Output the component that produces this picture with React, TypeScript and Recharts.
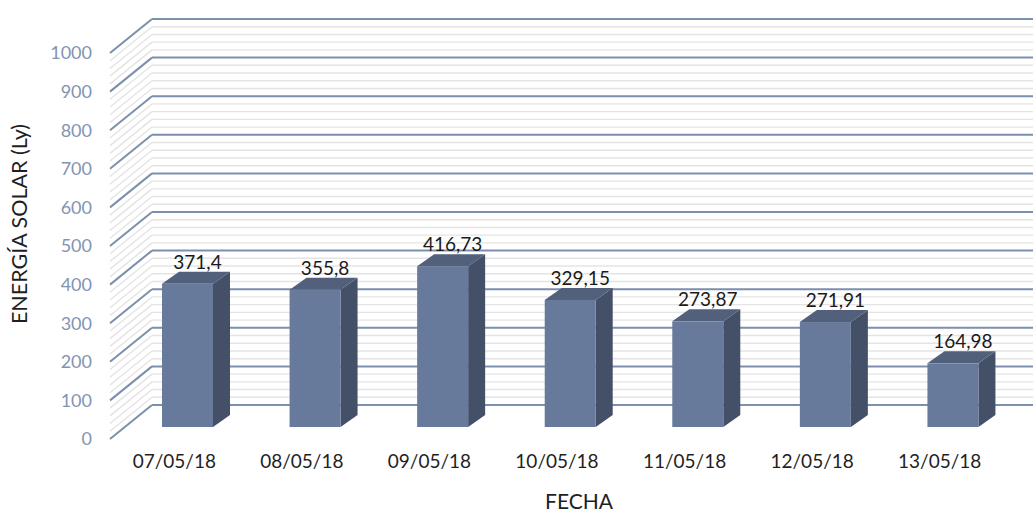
import React from 'react';
import { BarChart, Bar, XAxis, YAxis, CartesianGrid, LabelList } from 'recharts';

// ---- data ----
const DATES = ['07/05/18', '08/05/18', '09/05/18', '10/05/18', '11/05/18', '12/05/18', '13/05/18'];
const ENERGY = [371.4, 355.8, 416.73, 329.15, 273.87, 271.91, 164.98];
const MAJOR_TICKS = [0, 100, 200, 300, 400, 500, 600, 700, 800, 900, 1000];
const MINOR_STEP = 20;
const Y_MAX = 1000;
const X_TITLE = 'FECHA';
const Y_TITLE = 'ENERGÍA SOLAR (Ly)';

const data = DATES.map((d, i) => ({ date: d, value: ENERGY[i] }));
const gridTicks = Array.from({ length: Y_MAX / MINOR_STEP + 1 }, (_, i) => i * MINOR_STEP);

// ---- layout / 3D geometry ----
const W = 1033;
const H = 513;
const PLOT_LEFT = 124;
const PLOT_TOP = 41;
const PLOT_BOTTOM = 427;
const BAR_DX = 17;
const BAR_DY = 12;
const WALL_DX = 28;
const WALL_DY = 22;
const FRONT_DX = -14;
const FRONT_DY = 12;
const FONT = 'Lato, "Open Sans", sans-serif';

const MAJOR_COLOR = '#7d8fae';
const MINOR_COLOR = '#e4e4e4';

const renderGridLine = (p: any) => {
  const { x1, y1, x2, index, key } = p;
  let v: number;
  if (typeof p.y === 'number' && typeof p.height === 'number' && p.height > 0) {
    v = Math.round(((p.y + p.height - y1) / p.height) * Y_MAX);
  } else {
    v = index * MINOR_STEP;
  }
  const major = MAJOR_TICKS.some((t) => Math.abs(t - v) < 2);
  const stroke = major ? MAJOR_COLOR : MINOR_COLOR;
  const sw = major ? 2 : 1.4;
  return (
    <g key={key}>
      <line x1={x1 + FRONT_DX} y1={y1 + FRONT_DY} x2={x1 + WALL_DX} y2={y1 - WALL_DY} stroke={stroke} strokeWidth={sw} />
      <line x1={x1 + WALL_DX} y1={y1 - WALL_DY} x2={x2 + WALL_DX + 30} y2={y1 - WALL_DY} stroke={stroke} strokeWidth={sw} />
    </g>
  );
};

const YTick = (p: any) => {
  const v = p.payload?.value;
  if (!MAJOR_TICKS.includes(v)) return <g />;
  return (
    <text x={PLOT_LEFT - 32} y={p.y + FRONT_DY} dy="0.35em" textAnchor="end" fill="#8394b2" fontSize={18} fontFamily={FONT}>
      {v}
    </text>
  );
};

const XTick = (p: any) => (
  <text x={p.x - 13.5} y={PLOT_BOTTOM + 34} dy="0.35em" textAnchor="middle" fill="#1f1f1f" fontSize={19} fontFamily={FONT}>
    {p.payload?.value}
  </text>
);

const Bar3D = (p: any) => {
  const { x, y, width, height } = p;
  if (!height || height <= 0) return <g />;
  return (
    <g>
      <polygon
        points={`${x + width},${y} ${x + width + BAR_DX},${y - BAR_DY} ${x + width + BAR_DX},${y + height - BAR_DY} ${x + width},${y + height}`}
        fill="#445068"
      />
      <polygon
        points={`${x},${y} ${x + BAR_DX},${y - BAR_DY} ${x + width + BAR_DX},${y - BAR_DY} ${x + width},${y}`}
        fill="#52607b"
      />
      <rect x={x} y={y} width={width} height={height} fill="#687a9b" />
    </g>
  );
};

const fmt = (v: any) => String(v).replace('.', ',');

const DataLabel = (p: any) => (
  <text x={p.x + p.width / 2 + 10} y={p.y - 15} textAnchor="middle" fill="#1a1a1a" fontSize={19} fontFamily={FONT}>
    {fmt(p.value)}
  </text>
);

export default function App() {
  return (
    <div style={{ position: 'absolute', left: 0, top: 0, width: W, height: H, background: '#fff' }}>
      <BarChart
        width={W}
        height={H}
        data={data}
        margin={{ top: PLOT_TOP, right: 16, left: 0, bottom: 0 }}
      >
        <CartesianGrid vertical={false} horizontal={renderGridLine as any} />
        <YAxis
          domain={[0, Y_MAX]}
          ticks={gridTicks}
          interval={0}
          width={PLOT_LEFT}
          axisLine={false}
          tickLine={false}
          tick={<YTick />}
          allowDataOverflow
        />
        <XAxis
          dataKey="date"
          height={H - PLOT_BOTTOM}
          interval={0}
          axisLine={false}
          tickLine={false}
          tick={<XTick />}
        />
        <Bar dataKey="value" barSize={51} shape={<Bar3D />} isAnimationActive={false}>
          <LabelList dataKey="value" content={<DataLabel />} />
        </Bar>
      </BarChart>
      <svg width={W} height={H} style={{ position: 'absolute', left: 0, top: 0, pointerEvents: 'none' }}>
        <text x={579} y={509} textAnchor="middle" fill="#1f1f1f" fontSize={21} fontFamily={FONT}>
          {X_TITLE}
        </text>
        <text
          x={19}
          y={224}
          dy="0.35em"
          textAnchor="middle"
          fill="#1f1f1f"
          fontSize={21.5}
          fontFamily={FONT}
          transform="rotate(-90 19 224)"
        >
          {Y_TITLE}
        </text>
      </svg>
    </div>
  );
}
